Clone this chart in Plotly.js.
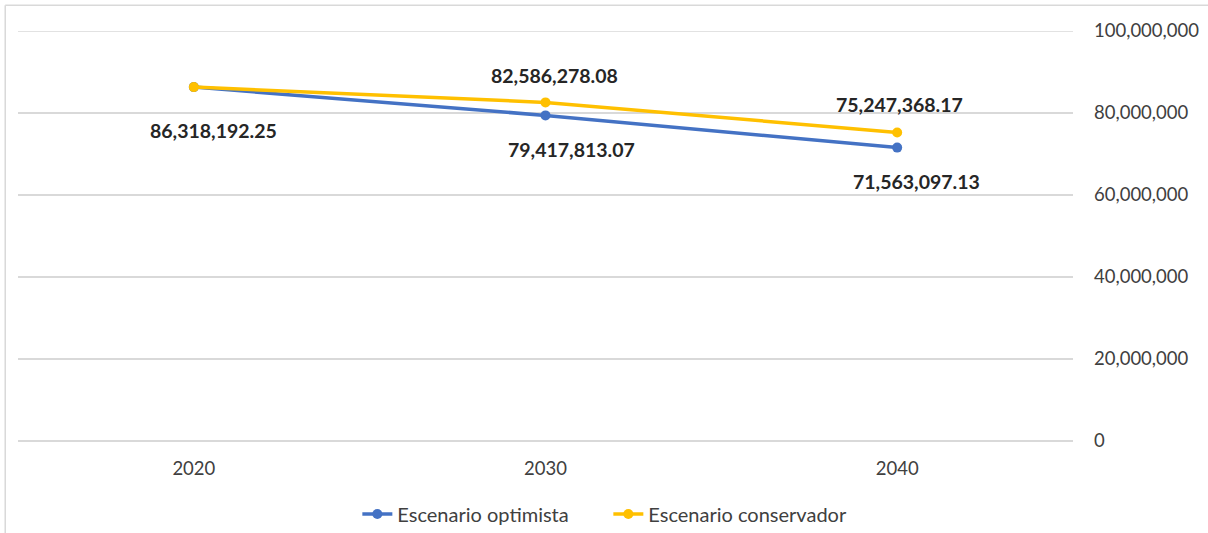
<!DOCTYPE html>
<html>
<head>
<meta charset="utf-8">
<script src="https://cdn.plot.ly/plotly-3.0.1.min.js"></script>
<style>html,body{margin:0;padding:0;background:#fff;}#chart{width:1208px;height:533px;}</style>
</head>
<body>
<div id="chart"></div>
<script>
const years = ['2020', '2030', '2040'];
const optimista = [86318192.25, 79417813.07, 71563097.13];
const conservador = [86318192.25, 82586278.08, 75247368.17];
const optimistaLabels = ['86,318,192.25', '79,417,813.07', '71,563,097.13'];
const conservadorLabels = ['', '82,586,278.08', '75,247,368.17'];
const seriesNames = ['Escenario optimista', 'Escenario conservador'];
const yTicks = [0, 20000000, 40000000, 60000000, 80000000, 100000000];
const yTickText = ['0', '20,000,000', '40,000,000', '60,000,000', '80,000,000', '100,000,000'];

const FONT = 'Lato, "Open Sans", sans-serif';
const blue = '#4472C4', yellow = '#FFC000';

const traces = [
  {x: years, y: optimista, name: seriesNames[0], type: 'scatter', mode: 'lines+markers',
   line: {color: blue, width: 3.5}, marker: {color: blue, size: 10}},
  {x: years, y: conservador, name: seriesNames[1], type: 'scatter', mode: 'lines+markers',
   line: {color: yellow, width: 3.5}, marker: {color: yellow, size: 10}}
];

const annotations = [];
const optShift = [[20, -43], [26, -34], [19, -34]];
const consShift = [[0, 27], [9, 27], [2, 28]];
for (let i = 0; i < optimista.length; i++) {
  annotations.push({x: i, y: optimista[i], xref: 'x', yref: 'y', text: '<b>' + optimistaLabels[i] + '</b>', showarrow: false,
    xshift: optShift[i][0], yshift: optShift[i][1], font: {family: FONT, size: 19.5, color: '#262626'}});
}
for (let i = 0; i < conservador.length; i++) {
  if (!conservadorLabels[i]) continue;
  annotations.push({x: i, y: conservador[i], xref: 'x', yref: 'y', text: '<b>' + conservadorLabels[i] + '</b>', showarrow: false,
    xshift: consShift[i][0], yshift: consShift[i][1], font: {family: FONT, size: 19.5, color: '#262626'}});
}

const layout = {
  width: 1208, height: 533,
  margin: {l: 18, r: 135, t: 31, b: 92, autoexpand: false},
  paper_bgcolor: '#fff', plot_bgcolor: '#fff',
  font: {family: FONT, size: 18, color: '#404040'},
  showlegend: true,
  legend: {orientation: 'h', xref: 'container', yref: 'container', x: 0.5036, xanchor: 'center', y: 19 / 533, yanchor: 'middle',
    font: {family: FONT, size: 20, color: '#404040'}, entrywidth: 206, entrywidthmode: 'pixels'},
  xaxis: {type: 'category', range: [-0.5, 2.5], showgrid: false, zeroline: false, showline: false,
    ticks: '', ticklabelstandoff: 14, tickfont: {family: FONT, size: 18.5, color: '#404040'}},
  yaxis: {side: 'right', range: [0, 100000000], tickvals: yTicks, ticktext: yTickText,
    showgrid: true, gridcolor: '#d9d9d9', gridwidth: 1.5, zeroline: true, zerolinecolor: '#d9d9d9', zerolinewidth: 1.5,
    showline: false, ticks: '',
    ticklabelstandoff: 20, tickfont: {family: FONT, size: 18.5, color: '#404040'}},
  annotations: annotations,
  shapes: [
    {type: 'line', xref: 'paper', yref: 'y', x0: 0, x1: 1, y0: 100000000, y1: 100000000,
     line: {color: '#d9d9d9', width: 1.5}, layer: 'below'},
    {type: 'line', xref: 'paper', yref: 'paper', x0: -0.0121, x1: 1.14, y0: 1.063, y1: 1.063,
     line: {color: '#d9d9d9', width: 1.5}},
    {type: 'line', xref: 'paper', yref: 'paper', x0: -0.0121, x1: -0.0121, y0: 1.063, y1: -0.3,
     line: {color: '#d9d9d9', width: 1.5}}
  ]
};

Plotly.newPlot('chart', traces, layout, {displayModeBar: false, staticPlot: true}).catch(function(e){
  document.body.insertAdjacentHTML('beforeend', '<pre>' + e + '</pre>');
});
</script>
</body>
</html>
